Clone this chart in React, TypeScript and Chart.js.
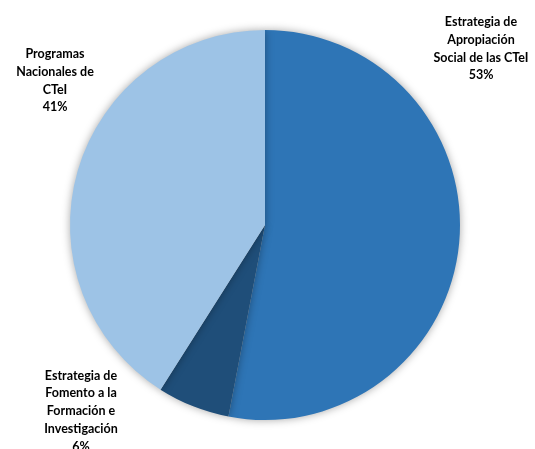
import React, { useEffect, useRef } from "react";
import { Chart, registerables } from "chart.js";

Chart.register(...registerables);

const categories = [
  "Estrategia de Apropiación Social de las CTeI",
  "Estrategia de Fomento a la Formación e Investigación",
  "Programas Nacionales de CTeI",
];
const values = [53, 6, 41];
const labelLines = [
  ["Estrategia de", "Apropiación", "Social de las CTeI"],
  ["Estrategia de", "Fomento a la", "Formación e", "Investigación"],
  ["Programas", "Nacionales de", "CTeI"],
];
const colors = ["#2E75B6", "#1F4E79", "#9DC3E6"];
// label anchors (center x, first line y) in canvas pixels
const labelAnchors = [
  { x: 481, y: 22 },
  { x: 81, y: 375.5 },
  { x: 55, y: 54 },
];

export default function App() {
  const ref = useRef<HTMLCanvasElement | null>(null);

  useEffect(() => {
    document.body.style.margin = "0";
    const canvas = ref.current;
    if (!canvas) return;

    const shadowPlugin = {
      id: "shadow",
      beforeDatasetsDraw(chart: any) {
        const ctx = chart.ctx;
        ctx.save();
        ctx.shadowColor = "rgba(0,0,0,0.35)";
        ctx.shadowBlur = 8;
        ctx.shadowOffsetX = 0;
        ctx.shadowOffsetY = 0;
      },
      afterDatasetsDraw(chart: any) {
        chart.ctx.restore();
      },
    };

    const labelPlugin = {
      id: "sliceLabels",
      afterDraw(chart: any) {
        const ctx = chart.ctx;
        const data = chart.data.datasets[0].data as number[];
        const total = data.reduce((a, b) => a + b, 0);
        ctx.save();
        ctx.fillStyle = "#000000";
        ctx.font = "bold 12.5px Lato, 'Liberation Sans', sans-serif";
        ctx.textAlign = "center";
        ctx.textBaseline = "middle";
        const lh = 17.8;
        labelLines.forEach((lines, i) => {
          const a = labelAnchors[i];
          const pct = Math.round((data[i] / total) * 100) + "%";
          const all = [...lines, pct];
          all.forEach((t, j) => ctx.fillText(t, a.x, a.y + j * lh));
        });
        ctx.restore();
      },
    };

    const chart = new Chart(canvas, {
      type: "pie",
      data: {
        labels: categories,
        datasets: [
          {
            data: values,
            backgroundColor: colors,
            borderWidth: 0,
          },
        ],
      },
      options: {
        responsive: false,
        animation: false,
        layout: { padding: { top: 30, bottom: 29, left: 70, right: 75 } },
        plugins: {
          legend: { display: false },
          tooltip: { enabled: false },
        },
      },
      plugins: [shadowPlugin, labelPlugin],
    });

    return () => chart.destroy();
  }, []);

  return (
    <div style={{ width: 535, height: 449, background: "#ffffff" }}>
      <canvas ref={ref} width={535} height={449} style={{ display: "block" }} />
    </div>
  );
}
